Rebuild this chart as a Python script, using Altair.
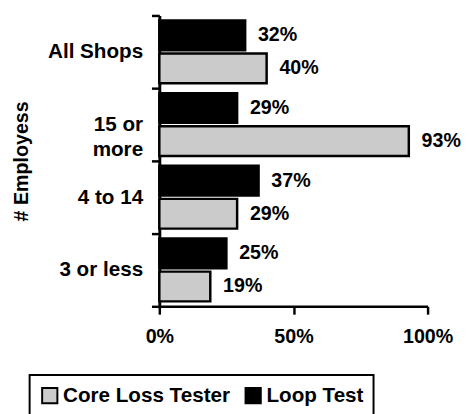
import altair as alt
import pandas as pd

categories = ["All Shops", "15 or more", "4 to 14", "3 or less"]
series = ["Core Loss Tester", "Loop Test"]
core_loss = [0.40, 0.93, 0.29, 0.19]
loop_test = [0.32, 0.29, 0.37, 0.25]
x_ticks = [0, 0.5, 1.0]

rows = []
for c, v in zip(categories, core_loss):
    rows.append({"group": c, "series": "Core Loss Tester", "value": v})
for c, v in zip(categories, loop_test):
    rows.append({"group": c, "series": "Loop Test", "value": v})
df = pd.DataFrame(rows)

FONT = "Liberation Sans"

y_enc = alt.Y(
    "group:N",
    sort=categories,
    scale=alt.Scale(paddingInner=0, paddingOuter=0),
    axis=alt.Axis(
        title="# Employess",
        titleFontSize=20,
        titleFont=FONT,
        titleFontWeight="bold",
        titleColor="black",
        titleAngle=-90,
        titleX=-140,
        titleY=148,
        titleAlign="center",
        titleBaseline="middle",
        domainColor="black",
        domainWidth=3,
        tickColor="black",
        tickWidth=2.5,
        tickSize=8,
        tickBand="extent",
        labelFont=FONT,
        labelFontSize=21,
        labelFontWeight="bold",
        labelColor="black",
        labelPadding=9,
        labelLineHeight=26,
        labelExpr="datum.value == '15 or more' ? ['15 or', 'more'] : datum.value",
    ),
)
yoff = alt.YOffset(
    "series:N",
    sort=["Loop Test", "Core Loss Tester"],
    scale=alt.Scale(paddingInner=0.1, paddingOuter=0.15),
)
x_enc = alt.X(
    "value:Q",
    scale=alt.Scale(domain=[0, 1]),
    axis=alt.Axis(
        title=None,
        values=x_ticks,
        format=".0%",
        grid=False,
        domainColor="black",
        domainWidth=2.5,
        tickColor="black",
        tickWidth=2.5,
        tickSize=8,
        labelFont=FONT,
        labelFontSize=20,
        labelFontWeight="bold",
        labelColor="black",
        labelPadding=13,
        labelFlush=False,
    ),
)

bars = alt.Chart(df).mark_bar(stroke="black", strokeWidth=2.5).encode(
    y=y_enc,
    yOffset=yoff,
    x=x_enc,
    color=alt.Color(
        "series:N",
        scale=alt.Scale(domain=series, range=["#cbcbcb", "#000000"]),
        legend=alt.Legend(
            title=None,
            orient="none",
            legendX=-132,
            legendY=366,
            direction="horizontal",
            symbolType="square",
            symbolSize=240,
            symbolStrokeColor="black",
            symbolStrokeWidth=2,
            labelFont=FONT,
            labelFontSize=21,
            labelFontWeight="bold",
            labelColor="black",
            labelOffset=3,
            labelLimit=400,
            columnPadding=11,
            padding=10,
            strokeColor="black",
        ),
    ),
)

labels = alt.Chart(df).mark_text(
    align="left", baseline="middle", dx=13, font=FONT, fontSize=20,
    fontWeight="bold", color="black"
).encode(
    y=alt.Y("group:N", sort=categories),
    yOffset=yoff,
    x=alt.X("value:Q"),
    text=alt.Text("value:Q", format=".0%"),
)

chart = (
    alt.layer(bars, labels)
    .properties(
        width=273,
        height=296,
        autosize=alt.AutoSizeParams(type="none"),
        padding={"left": 154, "top": 4, "right": 34, "bottom": 106},
        background="white",
    )
    .configure_view(stroke=None)
    .configure_legend(strokeWidth=2)
)

chart.save("out.html", embed_options={"renderer": "svg", "actions": False})
